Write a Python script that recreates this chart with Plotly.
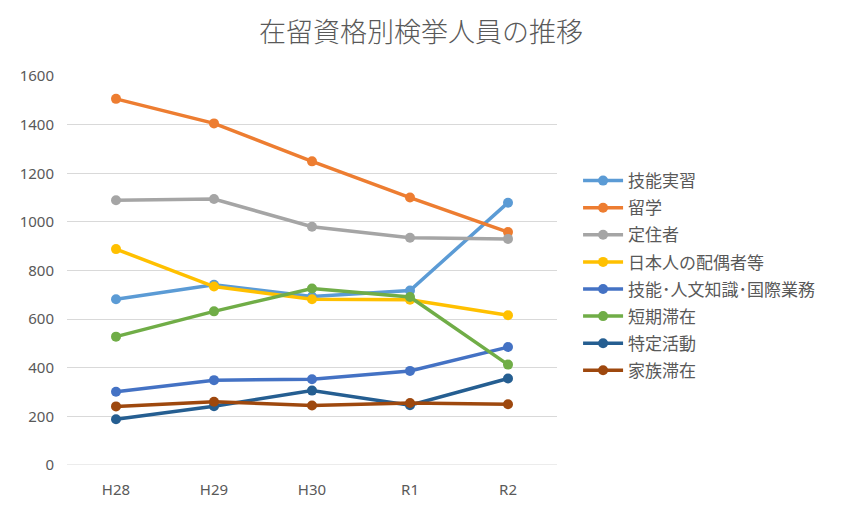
import plotly.graph_objects as go

years = ["H28", "H29", "H30", "R1", "R2"]

ginou_jisshu = [682, 741, 693, 718, 1079]
ryugaku = [1506, 1405, 1249, 1100, 958]
teijusha = [1089, 1094, 980, 935, 930]
haigusha = [888, 734, 682, 680, 616]
ginou_jinbun = [301, 349, 353, 387, 485]
tanki_taizai = [528, 632, 726, 691, 413]
tokutei_katsudo = [188, 242, 306, 246, 356]
kazoku_taizai = [241, 260, 245, 255, 250]

series = [
    ("技能実習", ginou_jisshu, "#5B9BD5"),
    ("留学", ryugaku, "#ED7D31"),
    ("定住者", teijusha, "#A5A5A5"),
    ("日本人の配偶者等", haigusha, "#FFC000"),
    ("技能･人文知識･国際業務", ginou_jinbun, "#4472C4"),
    ("短期滞在", tanki_taizai, "#70AD47"),
    ("特定活動", tokutei_katsudo, "#255E91"),
    ("家族滞在", kazoku_taizai, "#9E480E"),
]

font = "Noto Sans CJK JP"
grey = "#595959"

fig = go.Figure()
for i, (name, vals, col) in enumerate(series):
    fig.add_trace(go.Scatter(
        x=years, y=vals, name=name, mode="lines+markers",
        line=dict(color=col, width=3.5),
        marker=dict(color=col, size=10),
        legendgroup=str(i),
    ))

# page has an 8px body margin, so the figure is sized/placed to compensate
fig.update_layout(
    width=833, height=503,
    margin=dict(l=57, r=284, t=68, b=44),
    paper_bgcolor="white", plot_bgcolor="white",
    font=dict(family=font, color=grey),
    title=dict(text="在留資格別検挙人員の推移", x=413 / 833, xanchor="center",
               y=1 - 25 / 503, yanchor="middle",
               font=dict(size=27, color=grey, family=font, weight=300)),
    legend=dict(x=1.043, xanchor="left", y=0.487, yanchor="middle",
                font=dict(size=17, color=grey, family=font),
                tracegroupgap=2, itemwidth=40),
    showlegend=True,
)
fig.update_xaxes(showgrid=False, showline=False, ticks="outside", ticklen=11,
                 tickcolor="white", tickfont=dict(size=15, color=grey, family="Noto Sans"),
                 range=[-0.5, 4.5])
fig.update_yaxes(range=[0, 1600], dtick=200, gridcolor="#D9D9D9", gridwidth=1,
                 zeroline=False, showline=False, ticks="outside", ticklen=9,
                 tickcolor="white", tickfont=dict(size=15, color=grey, family="Noto Sans"))
fig.add_hline(y=0, line=dict(color="#D9D9D9", width=1))

fig.write_html("out.html")
